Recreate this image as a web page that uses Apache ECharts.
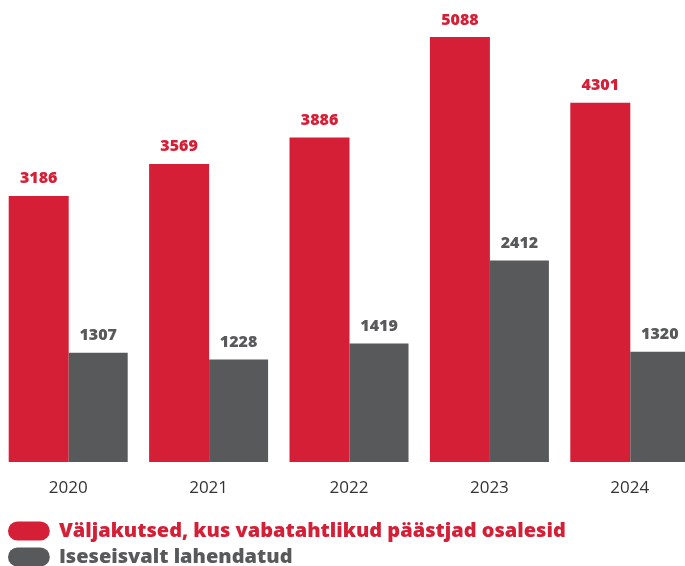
<!DOCTYPE html>
<html>
<head>
<meta charset="utf-8">
<script src="https://cdn.jsdelivr.net/npm/echarts@6/dist/echarts.min.js"></script>
<style>
  html, body { margin: 0; padding: 0; background: #fff; }
  #chart { width: 685px; height: 566px; }
</style>
</head>
<body>
<div id="chart"></div>
<script>
  // andmed
  var years = ['2020', '2021', '2022', '2023', '2024'];
  var withVolunteers = [3186, 3569, 3886, 5088, 4301];
  var independently = [1307, 1228, 1419, 2412, 1320];
  var seriesNames = ['Väljakutsed, kus vabatahtlikud päästjad osalesid', 'Iseseisvalt lahendatud'];

  var RED = '#d41f36';
  var GRAY = '#58595b';
  var FONT = '"Open Sans", "Noto Sans", sans-serif';
  var PILL = 'path://M10,0 L34,0 A10,10 0 0 1 34,20 L10,20 A10,10 0 0 1 10,0 Z';

  var chart = echarts.init(document.getElementById('chart'));

  function labelStyle(color) {
    return {
      show: true,
      position: 'top',
      distance: 9,
      color: color,
      fontFamily: FONT,
      fontWeight: 800,
      fontSize: 16
    };
  }

  // üks legend iga seeria jaoks, et read jääksid üksteise alla
  function legendRow(name, color, top) {
    return {
      left: 8,
      top: top,
      padding: 0,
      itemWidth: 44,
      itemHeight: 19,
      itemGap: 0,
      icon: PILL,
      textStyle: { fontFamily: FONT, fontWeight: 800, fontSize: 20, color: color, padding: [0, 0, 0, 3] },
      data: [name]
    };
  }

  chart.setOption({
    animation: false,
    backgroundColor: '#fff',
    grid: { left: -2, width: 702, top: 0, bottom: 104, outerBoundsMode: 'none', containLabel: false },
    legend: [
      legendRow(seriesNames[0], RED, 521),
      legendRow(seriesNames[1], GRAY, 547)
    ],
    xAxis: {
      type: 'category',
      data: years,
      axisLine: { show: false },
      axisTick: { show: false },
      axisLabel: { color: '#333', fontFamily: FONT, fontSize: 17, margin: 18 }
    },
    yAxis: {
      type: 'value',
      min: 0,
      max: 5531,
      show: false,
      splitLine: { show: false }
    },
    series: [
      {
        name: seriesNames[0],
        type: 'bar',
        data: withVolunteers,
        barWidth: 60,
        barGap: '0%',
        itemStyle: { color: RED },
        label: labelStyle(RED)
      },
      {
        name: seriesNames[1],
        type: 'bar',
        data: independently,
        barWidth: 59,
        itemStyle: { color: GRAY },
        label: labelStyle(GRAY)
      }
    ]
  });
</script>
</body>
</html>
